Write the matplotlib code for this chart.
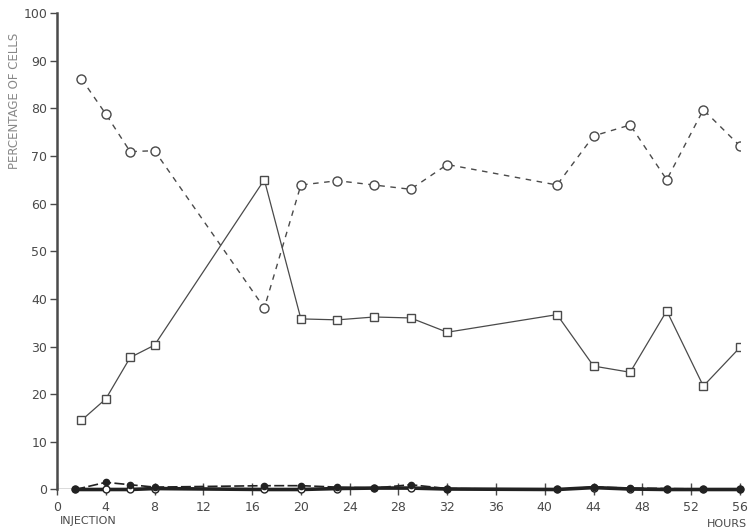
import matplotlib
matplotlib.use("Agg")
import matplotlib.pyplot as plt

hours = [2, 4, 6, 8, 17, 20, 23, 26, 29, 32, 41, 44, 47, 50, 53, 56]
circles = [86.2, 78.8, 70.9, 71.1, 38.1, 63.9, 64.8, 63.9, 63.0, 68.2,
           63.9, 74.2, 76.5, 65.0, 79.7, 72.1]
squares = [14.5, 19.0, 27.7, 30.3, 65.0, 35.8, 35.6, 36.2, 36.0, 33.0,
           36.7, 25.9, 24.6, 37.5, 21.7, 29.8]
low_hours = [1.5, 4, 6, 8, 17, 20, 23, 26, 29, 32, 41, 44, 47, 50, 53, 56]
filled_low = [0.0, 1.5, 1.0, 0.5, 0.8, 0.8, 0.5, 0.3, 1.0, 0.2,
              0.0, 0.5, 0.3, 0.2, 0.1, 0.1]
open_low = [0.0, 0.0, 0.0, 0.2, 0.0, 0.0, 0.2, 0.3, 0.3, 0.1,
            0.0, 0.4, 0.1, 0.0, 0.0, 0.0]
xticks = list(range(0, 57, 4))
yticks = list(range(0, 101, 10))

ink = "#4a4a4a"
fig = plt.figure(figsize=(7.48, 5.32), dpi=100)
ax = fig.add_axes([0.0762, 0.0799, 0.913, 0.8957])

ax.plot(hours, circles, linestyle=(0, (4, 4)), color=ink, lw=1.0,
        marker="o", markersize=6.5, markerfacecolor="white",
        markeredgecolor=ink, markeredgewidth=1.0)
ax.plot(hours, squares, linestyle="-", color=ink, lw=0.9,
        marker="s", markersize=5.5, markerfacecolor="white",
        markeredgecolor=ink, markeredgewidth=1.0)
ax.plot(low_hours, open_low, linestyle="-", color="#222222", lw=2.6,
        marker="o", markersize=5, markerfacecolor="white",
        markeredgecolor="#222222", markeredgewidth=1.0, clip_on=False)
ax.plot(low_hours, filled_low, linestyle=(0, (6, 2)), color="#222222", lw=1.2,
        marker="o", markersize=4.5, markerfacecolor="#222222",
        markeredgecolor="#222222", clip_on=False)

ax.set_xlim(0, 56)
ax.set_ylim(0, 100)
ax.spines["top"].set_visible(False)
ax.spines["right"].set_visible(False)
ax.spines["bottom"].set_visible(False)
ax.spines["left"].set_color(ink)
ax.spines["left"].set_linewidth(1.8)
ax.axhline(0, color=ink, lw=1.0, zorder=0)
ax.set_xticks(xticks)
ax.set_xticklabels([str(t) for t in xticks])
ax.set_yticks(yticks)
ax.set_yticklabels([str(t) for t in yticks])
ax.tick_params(axis="x", direction="inout", length=8, width=1.0, colors=ink,
               labelsize=9, pad=4)
ax.tick_params(axis="y", direction="out", length=5, width=1.0, colors=ink,
               labelsize=9, pad=2)

fig.text(0.02, 0.81, "PERCENTAGE OF CELLS", rotation=90, ha="center",
         va="center", fontsize=8.5, color="#888888")
fig.text(0.08, 0.012, "INJECTION", ha="left", va="bottom", fontsize=8,
         color=ink)
fig.text(0.999, 0.006, "HOURS", ha="right", va="bottom", fontsize=8,
         color=ink)

fig.savefig("out.png", dpi=100)
